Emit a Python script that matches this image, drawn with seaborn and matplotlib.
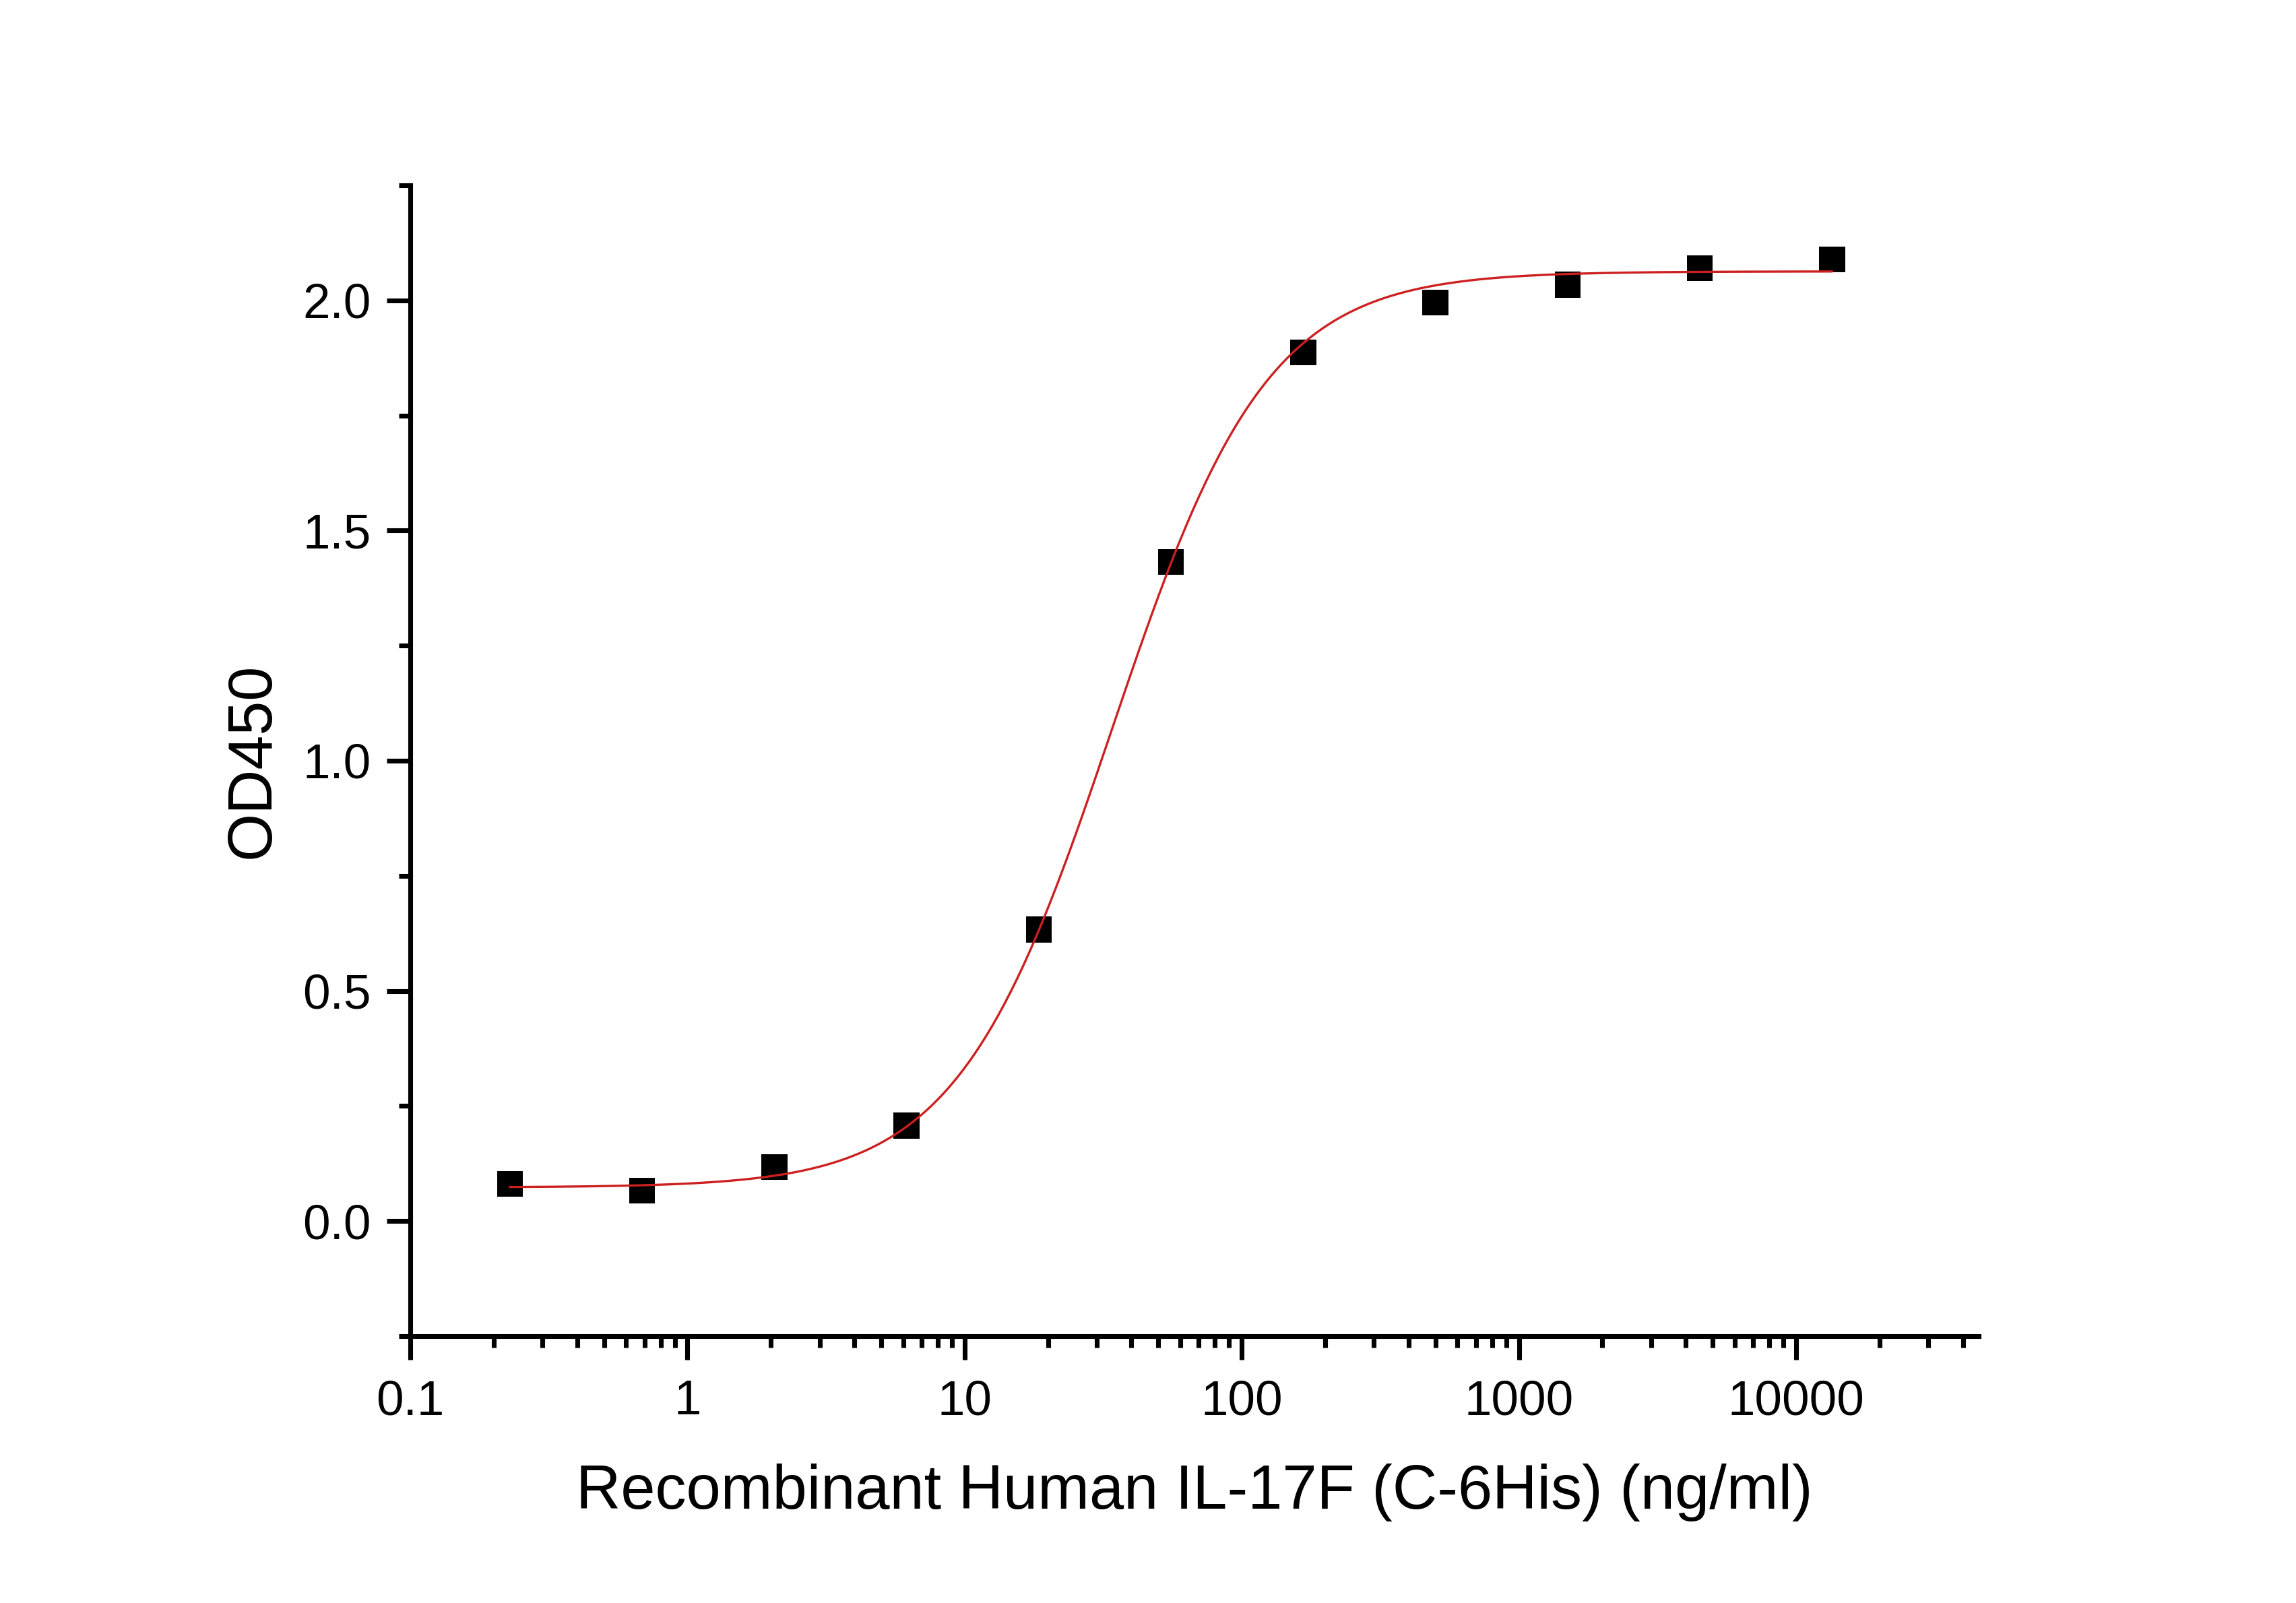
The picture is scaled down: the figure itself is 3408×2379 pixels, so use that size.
import numpy as np
import pandas as pd
import matplotlib
matplotlib.use("Agg")
import matplotlib.pyplot as plt
import matplotlib.ticker as mticker
import seaborn as sns

# measured points (3-fold dilution series)
conc = [0.2286, 0.6859, 2.058, 6.173, 18.52, 55.56, 166.7, 500, 1500, 4500, 13500]
od450 = [0.081, 0.066, 0.117, 0.207, 0.633, 1.432, 1.887, 1.995, 2.034, 2.070, 2.089]

# 4-parameter logistic fit
fit_bottom = 0.073
fit_top = 2.063
fit_ec50 = 34.0
fit_hill = 1.55

x_ticks = [0.1, 1, 10, 100, 1000, 10000]
y_ticks = [0.0, 0.5, 1.0, 1.5, 2.0]

sns.set_theme(style="ticks")
plt.rcParams["font.family"] = ["Liberation Sans", "DejaVu Sans"]

pts = pd.DataFrame({"conc": conc, "od": od450})
xf = np.logspace(np.log10(conc[0]), np.log10(conc[-1]), 400)
curve = pd.DataFrame({"conc": xf,
                      "od": fit_bottom + (fit_top - fit_bottom) / (1 + (fit_ec50 / xf) ** fit_hill)})

fig = plt.figure(figsize=(11.36, 7.93), dpi=300)
ax = fig.add_axes([0.1787, 0.1665, 0.8618 - 0.1787, 0.8844 - 0.1665])

sns.lineplot(data=curve, x="conc", y="od", ax=ax, color="#cc2020", lw=0.8, zorder=3)
sns.scatterplot(data=pts, x="conc", y="od", ax=ax, marker="s", s=85, color="black",
                edgecolor="none", zorder=2)

ax.set_xscale("log")
ax.set_xlim(0.1, 4.56e4)
ax.set_ylim(-0.25, 2.25)
ax.xaxis.set_major_locator(mticker.FixedLocator(x_ticks))
ax.xaxis.set_major_formatter(mticker.FixedFormatter([str(v) for v in x_ticks]))
ax.xaxis.set_minor_locator(mticker.LogLocator(base=10, subs=np.arange(2, 10), numticks=20))
ax.xaxis.set_minor_formatter(mticker.NullFormatter())
ax.set_yticks(y_ticks)
ax.yaxis.set_major_formatter(mticker.FormatStrFormatter("%.1f"))
ax.yaxis.set_minor_locator(mticker.MultipleLocator(0.25))

for s in ["top", "right"]:
    ax.spines[s].set_visible(False)
for s in ["left", "bottom"]:
    ax.spines[s].set_linewidth(1.7)
    ax.spines[s].set_color("black")

ax.tick_params(which="major", direction="out", length=8.4, width=1.7, color="black",
               labelsize=17.5, labelcolor="black")
ax.tick_params(axis="x", which="major", pad=7)
ax.tick_params(axis="y", which="major", pad=5.5)
ax.tick_params(which="minor", direction="out", length=4, width=1.7, color="black")

ax.set_xlabel("Recombinant Human IL-17F (C-6His) (ng/ml)", fontsize=22.1, labelpad=14, color="black")
ax.set_ylabel("OD450", fontsize=22.0, labelpad=7.5, color="black")

fig.savefig("out.png", dpi=300, facecolor="white")
